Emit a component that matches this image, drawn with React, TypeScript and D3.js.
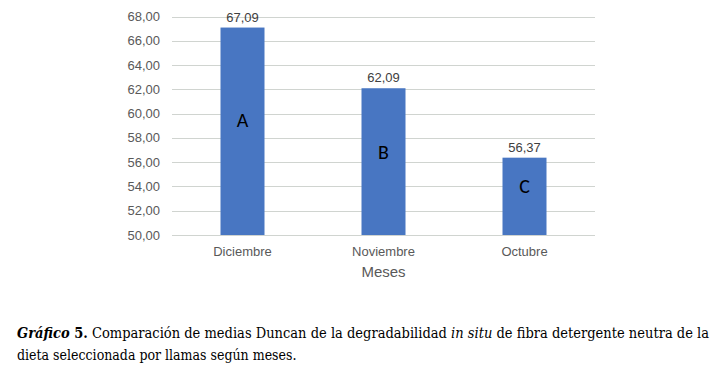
import React, { useEffect, useRef } from "react"
import * as d3 from "d3"

const months = ["Diciembre", "Noviembre", "Octubre"]
const means = [67.09, 62.09, 56.37]
const valueLabels = ["67,09", "62,09", "56,37"]
const groups = ["A", "B", "C"]
const groupLevels = [59.5, 56.8, 54.0]
const yTicks = [50, 52, 54, 56, 58, 60, 62, 64, 66, 68]

const App = () => {
    const svgRef = useRef<SVGSVGElement>(null)

    useEffect(() => {
        if (!svgRef.current) return
        const svg = d3.select(svgRef.current)
        svg.selectAll("*").remove()

        const left = 172
        const right = 595
        const top = 16.5
        const bottom = 235

        const x = d3.scaleBand().domain(months).range([left, right]).paddingInner(0).paddingOuter(0)
        const y = d3.scaleLinear().domain([50, 68]).range([bottom, top])
        const barW = 44

        // gridlines
        svg.append("g")
            .selectAll("line")
            .data(yTicks)
            .enter()
            .append("line")
            .attr("x1", left)
            .attr("x2", right)
            .attr("y1", (d) => Math.round(y(d)) + 0.5)
            .attr("y2", (d) => Math.round(y(d)) + 0.5)
            .attr("stroke", "#d0d4d0")
            .attr("stroke-width", 1)

        svg.append("g")
            .selectAll("text")
            .data(yTicks)
            .enter()
            .append("text")
            .attr("x", 160)
            .attr("y", (d) => y(d) + 4.5)
            .attr("text-anchor", "end")
            .attr("font-family", "Liberation Sans, Arial, sans-serif")
            .attr("font-size", "13px")
            .attr("fill", "#595959")
            .text((d) => d.toFixed(2).replace(".", ","))

        const bars = months.map((m, i) => ({ m, v: means[i], lab: valueLabels[i], g: groups[i], gl: groupLevels[i] }))

        svg.append("g")
            .selectAll("rect")
            .data(bars)
            .enter()
            .append("rect")
            .attr("x", (d) => x(d.m)! + x.bandwidth() / 2 - barW / 2)
            .attr("y", (d) => y(d.v))
            .attr("width", barW)
            .attr("height", (d) => y(50) - y(d.v))
            .attr("fill", "#4876c2")

        svg.append("g")
            .selectAll("text")
            .data(bars)
            .enter()
            .append("text")
            .attr("x", (d) => x(d.m)! + x.bandwidth() / 2)
            .attr("y", (d) => y(d.v) - 6)
            .attr("text-anchor", "middle")
            .attr("font-family", "Liberation Sans, Arial, sans-serif")
            .attr("font-size", "13px")
            .attr("fill", "#404040")
            .text((d) => d.lab)

        svg.append("g")
            .selectAll("text")
            .data(bars)
            .enter()
            .append("text")
            .attr("x", (d) => x(d.m)! + x.bandwidth() / 2)
            .attr("y", (d) => y(d.gl) + 7)
            .attr("text-anchor", "middle")
            .attr("font-family", "Carlito, Open Sans, sans-serif")
            .attr("font-size", "20px")
            .attr("fill", "#000")
            .text((d) => d.g)

        svg.append("g")
            .selectAll("text")
            .data(months)
            .enter()
            .append("text")
            .attr("x", (d) => x(d)! + x.bandwidth() / 2)
            .attr("y", 256)
            .attr("text-anchor", "middle")
            .attr("font-family", "Liberation Sans, Arial, sans-serif")
            .attr("font-size", "13px")
            .attr("fill", "#595959")
            .text((d) => d)

        svg.append("text")
            .attr("x", (left + right) / 2)
            .attr("y", 277)
            .attr("text-anchor", "middle")
            .attr("font-family", "Liberation Sans, Arial, sans-serif")
            .attr("font-size", "15px")
            .attr("fill", "#595959")
            .text("Meses")

        const capFont = "DejaVu Serif Condensed, Liberation Serif, serif"
        const cap = svg.append("text")
            .attr("x", 17)
            .attr("y", 338)
            .attr("font-family", capFont)
            .attr("font-size", "14px")
            .attr("font-weight", "bold")
            .attr("fill", "#000")
            .attr("textLength", 692)
            .attr("lengthAdjust", "spacingAndGlyphs")
        cap.append("tspan").attr("font-style", "italic").text("Gráfico")
        cap.append("tspan").text(" 5.")
        cap.append("tspan").attr("font-weight", "normal").text(" Comparación de medias Duncan de la degradabilidad ")
        cap.append("tspan").attr("font-weight", "normal").attr("font-style", "italic").text("in situ")
        cap.append("tspan").attr("font-weight", "normal").text(" de fibra detergente neutra de la")

        svg.append("text")
            .attr("x", 17)
            .attr("y", 360)
            .attr("font-family", capFont)
            .attr("font-size", "14px")
            .attr("fill", "#000")
            .text("dieta seleccionada por llamas según meses.")
    }, [])

    return (
        <svg
            ref={svgRef}
            width={719}
            height={366}
            style={{ position: "absolute", left: 0, top: 0, background: "#fff" }}
        />
    )
}

export default App
